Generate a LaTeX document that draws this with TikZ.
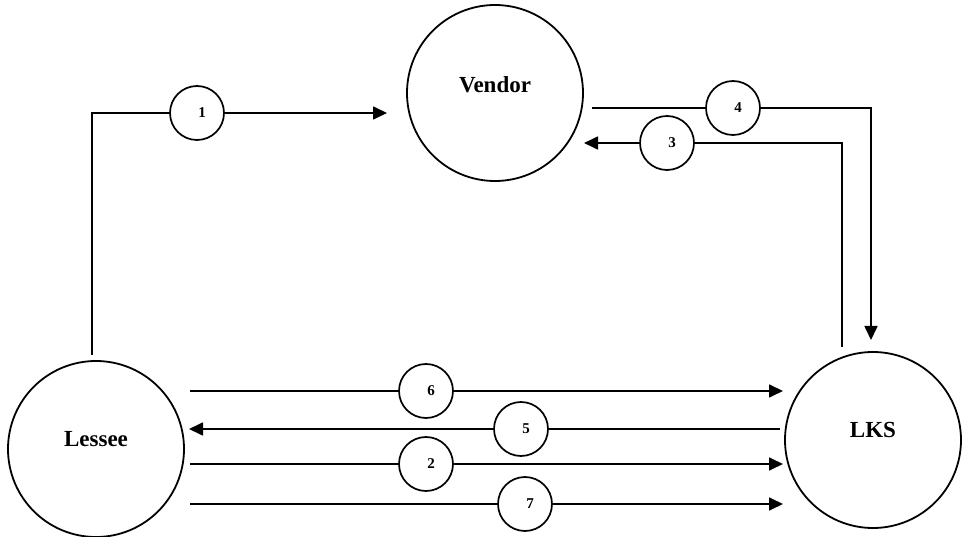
\documentclass[tikz,border=0pt]{standalone}
\usepackage{fontspec}
\setmainfont{Liberation Serif}
\usetikzlibrary{arrows.meta}
\begin{document}
\begin{tikzpicture}[x=1pt,y=-1pt,
  party/.style={circle,draw,line width=1.8pt,minimum size=176pt,inner sep=0pt},
  tag/.style={circle,draw,fill=white,line width=1.7pt,minimum size=54pt,inner sep=0pt},
  flow/.style={line width=1.7pt},
  arr/.style={flow,-{Triangle[length=14pt,width=13pt]}},
  partytext/.style={font=\fontsize{23}{27}\selectfont\bfseries},
  steptext/.style={font=\fontsize{15}{18}\selectfont\bfseries}]
\useasboundingbox (0,0) rectangle (962,537);

% the three parties
\node[party,label={[partytext,yshift=8pt]center:Vendor}] (vendor) at (495,93) {};
\node[party,label={[partytext,yshift=10pt]center:Lessee}] (lessee) at (96,449) {};
\node[party,label={[partytext,yshift=10pt]center:LKS}] (lks) at (873,440) {};

% free ends of the flows
\coordinate (s1) at (92,355);   \coordinate (e1) at (387,113);
\coordinate (s4) at (592,108);  \coordinate (e4) at (871,340);
\coordinate (s3) at (842,347);  \coordinate (e3) at (584,143);
\coordinate (s6) at (190,391);  \coordinate (e6) at (783,391);
\coordinate (s5) at (780,429);  \coordinate (e5) at (189,429);
\coordinate (s2) at (190,464);  \coordinate (e2) at (783,464);
\coordinate (s7) at (190,504);  \coordinate (e7) at (783,504);

% step markers
\node[tag,label={[steptext,xshift=5pt]center:1}] (n1) at (197,113) {};
\node[tag,label={[steptext,xshift=5pt]center:4}] (n4) at (733,108) {};
\node[tag,label={[steptext,xshift=5pt]center:3}] (n3) at (667,143) {};
\node[tag,label={[steptext,xshift=5pt]center:6}] (n6) at (426,391) {};
\node[tag,label={[steptext,xshift=5pt]center:5}] (n5) at (521,429) {};
\node[tag,label={[steptext,xshift=5pt]center:2}] (n2) at (426,464) {};
\node[tag,label={[steptext,xshift=5pt]center:7}] (n7) at (525,504) {};

% flows
\draw[flow] (s1) |- (n1.west);
\draw[arr] (n1.east) -- (e1);

\draw[flow] (s4) -- (n4.west);
\draw[arr] (n4.east) -| (e4);

\draw[flow] (s3) |- (n3.east);
\draw[arr] (n3.west) -- (e3);

\draw[flow] (s6) -- (n6.west);
\draw[arr] (n6.east) -- (e6);

\draw[flow] (s5) -- (n5.east);
\draw[arr] (n5.west) -- (e5);

\draw[flow] (s2) -- (n2.west);
\draw[arr] (n2.east) -- (e2);

\draw[flow] (s7) -- (n7.west);
\draw[arr] (n7.east) -- (e7);
\end{tikzpicture}
\end{document}
